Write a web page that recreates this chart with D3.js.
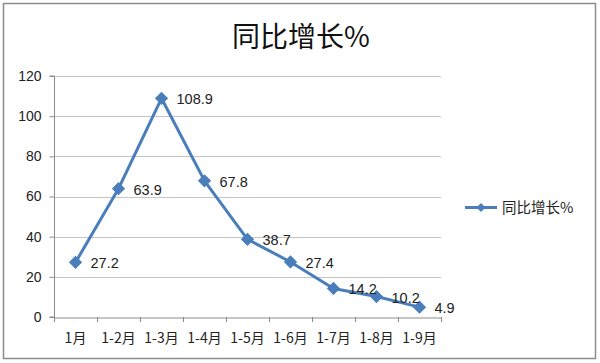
<!DOCTYPE html>
<html><head><meta charset="utf-8">
<script src="https://cdn.jsdelivr.net/npm/d3@7"></script>
<style>
body{margin:0;background:#fff;}
text{font-family:"Noto Sans CJK SC","Liberation Sans",sans-serif;}
</style></head>
<body><svg id="c" width="600" height="363"></svg>
<script>
const title = "同比增长%";
const seriesName = "同比增长%";
const categories = ["1月","1-2月","1-3月","1-4月","1-5月","1-6月","1-7月","1-8月","1-9月"];
const values = [27.2, 63.9, 108.9, 67.8, 38.7, 27.4, 14.2, 10.2, 4.9];
const yTicks = [0, 20, 40, 60, 80, 100, 120];

const svg = d3.select("#c");
const blue = "#4a7ebb";
svg.append("rect").attr("x",3.5).attr("y",3.5).attr("width",592).attr("height",355)
  .attr("fill","#fff").attr("stroke","#8c8c8c").attr("stroke-width",1.5);

const L = 54, R = 441, T = 76, B = 317;
const x = d3.scaleBand().domain(categories).range([L, R]);
const y = d3.scaleLinear().domain([0, 120]).range([B, T]);

// gridlines
svg.append("g").selectAll("line").data(yTicks.filter(d=>d>0)).join("line")
  .attr("x1", L).attr("x2", R).attr("y1", d=>Math.round(y(d))+0.5).attr("y2", d=>Math.round(y(d))+0.5)
  .attr("stroke","#c4c4c4").attr("stroke-width",1);

// y axis
const ya = svg.append("g").attr("transform",`translate(${L+0.5},0)`)
  .call(d3.axisLeft(y).tickValues(yTicks).tickSize(5).tickPadding(8).tickFormat(d3.format("d")));
ya.selectAll("path").attr("stroke","#8c8c8c").attr("d",`M-5,${y(0)}H0V${y(120)}H-5`);
ya.selectAll("line").attr("stroke","#8c8c8c");
ya.selectAll("text").attr("font-size",14).attr("fill","#222").style("font-family",'"Liberation Sans","Noto Sans",sans-serif');

// x axis
const xa = svg.append("g").attr("transform",`translate(0,${B+0.5})`)
  .call(d3.axisBottom(x).tickSizeOuter(0).tickSize(0).tickPadding(16));
xa.select("path").attr("stroke","#8c8c8c");
xa.selectAll("text").attr("font-size",14).attr("fill","#222");
const bounds = categories.map(c=>x(c)).concat([R]);
svg.append("g").selectAll("line").data(bounds).join("line")
  .attr("x1",d=>Math.round(d)+0.5).attr("x2",d=>Math.round(d)+0.5)
  .attr("y1",B).attr("y2",B+5).attr("stroke","#8c8c8c");

// line
const cx = c => x(c) + x.bandwidth()/2;
const line = d3.line().x((d,i)=>cx(categories[i])).y(d=>y(d));
svg.append("path").datum(values).attr("d",line).attr("fill","none")
  .attr("stroke",blue).attr("stroke-width",3).attr("stroke-linejoin","round");

svg.append("g").selectAll("path").data(values).join("path")
  .attr("transform",(d,i)=>`translate(${cx(categories[i])},${y(d)}) rotate(45)`)
  .attr("d", d3.symbol().type(d3.symbolSquare).size(70)).attr("fill",blue).attr("stroke",blue).attr("stroke-width",1);

// labels
svg.append("g").selectAll("text").data(values).join("text")
  .attr("x",(d,i)=>cx(categories[i])+15).attr("y",d=>y(d)+6)
  .attr("font-size",14.5).attr("fill","#222")
  .style("font-family",'"Liberation Sans","Noto Sans",sans-serif')
  .text(d=>d3.format(".1f")(d));

// title
svg.append("text").attr("x",301).attr("y",47).attr("text-anchor","middle")
  .attr("font-size",28).attr("fill","#111").text(title);

// legend
const ly = 207.5;
svg.append("line").attr("x1",465).attr("x2",497).attr("y1",ly).attr("y2",ly).attr("stroke",blue).attr("stroke-width",3);
svg.append("path").attr("transform",`translate(481,${ly}) rotate(45)`)
  .attr("d", d3.symbol().type(d3.symbolSquare).size(40)).attr("fill",blue);
svg.append("text").attr("x",502).attr("y",ly+5).attr("font-size",14.5).attr("fill","#222").text(seriesName);
</script></body></html>
